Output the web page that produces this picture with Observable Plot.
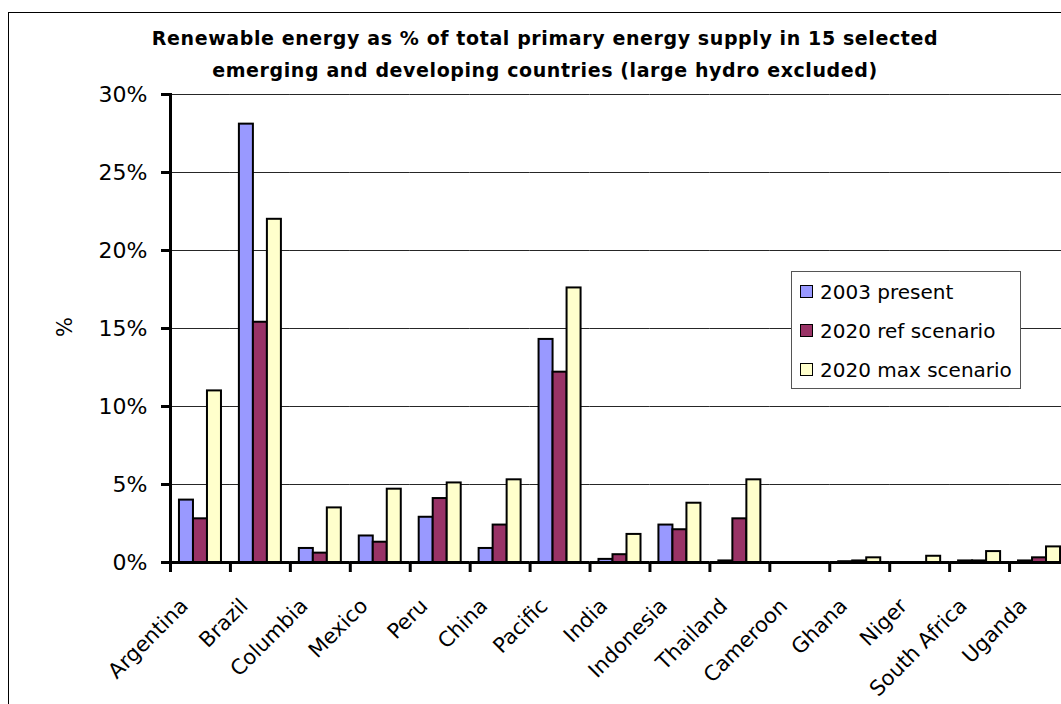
<!DOCTYPE html>
<html><head><meta charset="utf-8">
<script src="https://cdn.jsdelivr.net/npm/d3@7"></script>
<script src="https://cdn.jsdelivr.net/npm/@observablehq/plot@0.6"></script>
<style>
body{margin:0;background:#fff;overflow:hidden}
#wrap{position:relative;width:1061px;height:704px;overflow:hidden;background:#fff;font-family:"DejaVu Sans",sans-serif;color:#000}
#border{position:absolute;left:8px;top:12px;width:1200px;height:900px;border:1px solid #000;box-sizing:border-box}
#title{position:absolute;left:0;width:1090px;top:22px;text-align:center;font-weight:bold;font-size:19px;letter-spacing:0.6px;line-height:32px}
#chart{position:absolute;left:0;top:0;width:1100px}
#ylab{position:absolute;left:54px;top:316px;width:22px;height:22px;font-size:21px;line-height:22px;text-align:center;transform:rotate(-90deg)}
#legend{position:absolute;left:791px;top:271px;width:230px;height:118px;box-sizing:border-box;border:1px solid #555;background:#fff;padding:0 0 0 8px}
.row{display:flex;align-items:center;height:39px;font-size:20px}
.sw{width:11px;height:11px;border:1.5px solid #000;margin-right:7px}
</style></head>
<body><div id="wrap">
<div id="border"></div>
<div id="chart"></div>
<div id="title">Renewable energy as % of total primary energy supply in 15 selected<br>emerging and developing countries (large hydro excluded)</div>
<div id="ylab">%</div>
<div id="legend"></div>
</div>
<script>
const countries = ["Argentina","Brazil","Columbia","Mexico","Peru","China","Pacific","India","Indonesia","Thailand","Cameroon","Ghana","Niger","South Africa","Uganda"];
const seriesNames = ["2003 present","2020 ref scenario","2020 max scenario"];
const present2003 = [4.0, 28.1, 0.9, 1.7, 2.9, 0.9, 14.3, 0.2, 2.4, 0.1, 0, 0.05, 0, 0.1, 0.1];
const ref2020     = [2.8, 15.4, 0.6, 1.3, 4.1, 2.4, 12.2, 0.5, 2.1, 2.8, 0, 0.1, 0, 0.1, 0.3];
const max2020     = [11.0, 22.0, 3.5, 4.7, 5.1, 5.3, 17.6, 1.8, 3.8, 5.3, 0, 0.3, 0.4, 0.7, 1.0];
const colors = ["#9999FF","#993366","#FFFFCC"];
const yTicks = [0,5,10,15,20,25,30];

const seriesValues = [present2003, ref2020, max2020];
const table = [];
countries.forEach((c, i) => seriesNames.forEach((s, j) => table.push({country: c, series: s, value: seriesValues[j][i]})));

const W = 1075, ML = 170, MR = 6;
const band = (W - ML - MR) / countries.length;

const chart = Plot.plot({
  width: W, height: 704,
  marginTop: 94, marginBottom: 142, marginLeft: ML, marginRight: MR,
  style: {background: "transparent", maxWidth: "none", overflow: "visible", fontFamily: "DejaVu Sans", fontSize: "20px"},
  fx: {domain: countries, paddingInner: 0, paddingOuter: 0, round: false, axis: null},
  x: {domain: seriesNames, paddingInner: 0, paddingOuter: 0.64, round: false, axis: null},
  y: {domain: [0, 30], axis: null},
  color: {domain: seriesNames, range: colors},
  marks: [
    Plot.gridY(yTicks, {stroke: "#000", strokeOpacity: 0.85, strokeWidth: 1}),
    Plot.barY(table, {fx: "country", x: "series", y: "value", fill: "series", stroke: "#000", strokeWidth: 2}),
    Plot.ruleY([0], {stroke: "#000", strokeWidth: 3}),
    Plot.frame({anchor: "left", facetAnchor: "left", stroke: "#000", strokeWidth: 3}),
    Plot.axisY(yTicks, {anchor: "left", tickSize: 9, tickPadding: 14, strokeWidth: 3, tickFormat: d => d + "%", fontSize: 22, label: null}),
    Plot.axisFx({anchor: "bottom", tickSize: 10, tickPadding: 0, text: null, strokeWidth: 3, dx: -band / 2, label: null}),
    Plot.axisFx({anchor: "bottom", tickSize: 0, tickPadding: 0, tickRotate: -45, dx: -16, dy: 40, fontSize: 21, label: null})
  ]
});
document.getElementById("chart").appendChild(chart);

const legend = document.getElementById("legend");
seriesNames.forEach((s, j) => {
  const row = document.createElement("div");
  row.className = "row";
  const sw = document.createElement("div");
  sw.className = "sw";
  sw.style.background = colors[j];
  const t = document.createElement("span");
  t.textContent = s;
  row.appendChild(sw); row.appendChild(t);
  legend.appendChild(row);
});
</script>
</body></html>
